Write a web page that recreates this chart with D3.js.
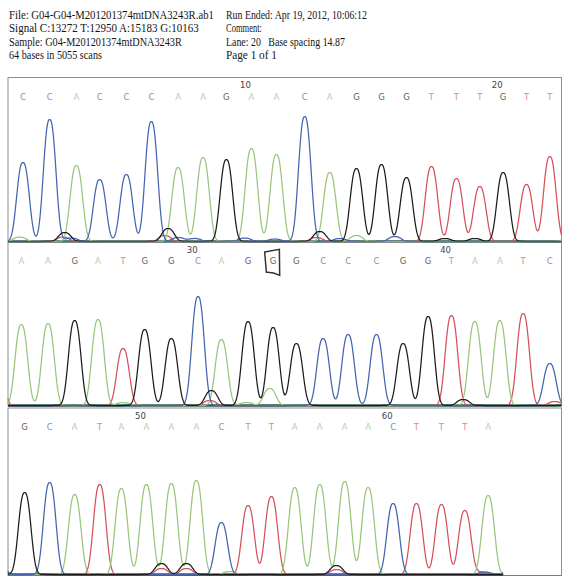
<!DOCTYPE html>
<html><head><meta charset="utf-8">
<script src="https://cdn.jsdelivr.net/npm/d3@7"></script>
<style>body{margin:0;background:#fff}</style>
</head><body>
<svg id="c" width="568" height="584"></svg>
<script>
// ---------- data ----------
const headerLeft = [
  "File: G04-G04-M201201374mtDNA3243R.ab1",
  "Signal C:13272 T:12950 A:15183 G:10163",
  "Sample: G04-M201201374mtDNA3243R",
  "64 bases in 5055 scans"
];
const headerRight = [
  "Run Ended: Apr 19, 2012, 10:06:12",
  "Comment:",
  "Lane: 20   Base spacing 14.87",
  "Page 1 of 1"
];
const baseCalls = [
  "C","C","A","C","C","C","A","A","G","A","A","C","A","G","G","G","T","T","T","G","T","T",
  "A","A","G","A","T","G","G","C","A","G","G","G","C","C","C","G","G","T","A","A","T","C",
  "G","C","A","T","A","A","A","A","C","T","T","A","A","A","A","C","T","T","T","A"
];
// peak centres, in scan numbers
const peakScans = [
  1009,1025,1041,1055,1071,1086,1102,1117,1131,1146,1161,1178,1193,1209,1224,1239,1254,1269,1283,1297,1311,1325,
  1340,1356,1372,1386,1401,1414,1430,1446,1460,1476,1491,1505,1521,1536,1553,1569,1584,1598,1612,1627,1641,1657,
  1674,1689,1704,1719,1732,1747,1762,1777,1792,1808,1822,1836,1851,1866,1880,1895,1909,1924,1938,1952
];
// peak heights, relative fluorescence
const peakHeights = [
  790,1220,760,620,670,1200,740,840,820,930,870,1250,690,730,770,640,750,630,550,690,570,850,
  810,820,850,860,570,760,670,1090,660,840,780,620,670,710,710,620,890,900,840,850,920,420,
  820,920,800,900,860,900,910,940,520,690,780,870,900,930,870,710,710,700,640,790
];
// small secondary signals under the main calls
const minorBases   = ["A","G","T","C","G","T","C","C","C","C","G","T","A","C","C","G","G",
                      "A","G","T","A","A","G","T",
                      "G","T","G","T","G","T","A","C","T","C"];
const minorScans   = [1007,1034,1033,1038,1096,1094,1102,1112,1142,1160,1187,1185,1209,1232,1199,1262,1280,
                      1401,1454,1453,1489,1475,1605,1660,
                      1756,1756,1771,1771,1861,1861,1797,1950,1948,1966];
const minorHeights = [45,90,45,35,130,60,40,30,35,25,100,40,60,50,30,30,30,
                      30,150,50,170,30,60,40,
                      110,60,110,60,90,50,30,25,25,60];
const panelStartScans = [1000, 1332, 1664];
const panelSpanScans = 332;
const traceEndScan = 1961;
const tickBases = [10, 20, 30, 40, 50, 60];
const flaggedBase = 33;

// ---------- styles / layout ----------
const traceColor = {C:"#4464b0", A:"#98c67a", G:"#1c1c1c", T:"#d6505a"};
const letterColor = {C:"#8090b4", A:"#b2d2a0", G:"#5c5c5c", T:"#d98c8c"};
const drawOrder = ["T","A","C","G"];
const panels = [
  {top:77.5, base:241.5},
  {top:242,  base:405.5},
  {top:408,  base:574.5}
];
const X0 = 8, X1 = 561.5;
const W = 4.8, P = 2.5;   // peak shape

const svg = d3.select("#c");

// header (condensed serif, as in the printed report)
const hdr = svg.append("g").attr("font-family","'Liberation Serif','Times New Roman',serif")
  .attr("font-size",12.5).attr("fill","#151515");
const leftLens = [205, 190, 173, 93];
const rightLens = [141, 36, 119, 51];
const baselines = [18.5, 32, 45.5, 59];
function headerLine(t, x0, yb, len){
  const el = hdr.append("text").attr("x",0).attr("y",0).style("white-space","pre").text(t);
  const nat = el.node().getComputedTextLength();
  el.attr("transform",`translate(${x0},${yb}) scale(${len/nat},1)`);
}
headerLeft.forEach((t,i)=>headerLine(t, 9, baselines[i], leftLens[i]));
headerRight.forEach((t,i)=>headerLine(t, 226, baselines[i], rightLens[i]));

function signal(color, s){
  let v = 0;
  for (let i=0;i<baseCalls.length;i++){
    if (baseCalls[i]!==color) continue;
    const d = Math.abs(s-peakScans[i]);
    if (d>30) continue;
    v += peakHeights[i]*Math.exp(-Math.pow(d/W,P));
  }
  for (let i=0;i<minorBases.length;i++){
    if (minorBases[i]!==color) continue;
    const d = Math.abs(s-minorScans[i]);
    if (d>30) continue;
    v += minorHeights[i]*Math.exp(-Math.pow(d/W,P));
  }
  return v;
}

panels.forEach((pn,pi)=>{
  const s0 = panelStartScans[pi], s1 = s0+panelSpanScans;
  const x = d3.scaleLinear().domain([s0,s1]).range([X0,X1]);
  const y = d3.scaleLinear().domain([0,1640]).range([pn.base, pn.base-164]);
  const g = svg.append("g");

  // frame
  g.append("rect").attr("x",X0).attr("y",pn.top).attr("width",X1-X0).attr("height",pn.base-pn.top+ (pi===2?1:0))
    .attr("fill","none").attr("stroke","#8a8f90").attr("stroke-width",1);

  // baseline
  const sEnd = Math.min(s1, traceEndScan);
  g.append("line").attr("x1",X0).attr("x2",x(sEnd)).attr("y1",pn.base).attr("y2",pn.base)
    .attr("stroke","#2d5a55").attr("stroke-width",2.4);
  if (pi===2){
    g.append("line").attr("x1",x(sEnd)).attr("x2",X1).attr("y1",pn.base+1).attr("y2",pn.base+1)
      .attr("stroke","#6f8282").attr("stroke-width",1.2);
  }

  // traces
  const samples = d3.range(s0, sEnd+0.001, 0.25);
  drawOrder.forEach(c=>{
    const pts = samples.map(s=>[s, signal(c,s)]);
    g.append("path").datum(pts)
      .attr("d", d3.line().x(d=>x(d[0])).y(d=>y(d[1])))
      .attr("fill","none").attr("stroke",traceColor[c]).attr("stroke-width",1.25)
      .attr("stroke-linejoin","round");
  });

  // base letters & tick numbers
  const idx = d3.range(baseCalls.length).filter(i=>peakScans[i]>=s0 && peakScans[i]<s1);
  g.selectAll("text.b").data(idx).join("text")
    .attr("x",i=>x(peakScans[i])).attr("y",pn.top+22)
    .attr("text-anchor","middle").attr("font-family","'DejaVu Sans',sans-serif").attr("font-size",8.5)
    .attr("fill",i=>letterColor[baseCalls[i]]).text(i=>baseCalls[i]);
  g.selectAll("text.n").data(tickBases.filter(b=>idx.includes(b-1))).join("text")
    .attr("x",b=>x(peakScans[b-1])-0.5).attr("y",pn.top+10.5)
    .attr("text-anchor","end").attr("font-family","'DejaVu Sans',sans-serif").attr("font-size",8.5)
    .attr("fill","#444").text(b=>b);

  // flagged base box
  if (idx.includes(flaggedBase-1)){
    const cx = x(peakScans[flaggedBase-1]), cy = pn.top+19;
    g.append("path")
      .attr("d",`M${cx-8.4},${cy-9} L${cx+6.3},${cy-11.7} L${cx+6.6},${cy+14.3} Q${cx},${cy+11} ${cx-6.7},${cy+11.3} Z`)
      .attr("fill","none").attr("stroke","#333").attr("stroke-width",1.5);
  }
});
</script>
</body></html>
